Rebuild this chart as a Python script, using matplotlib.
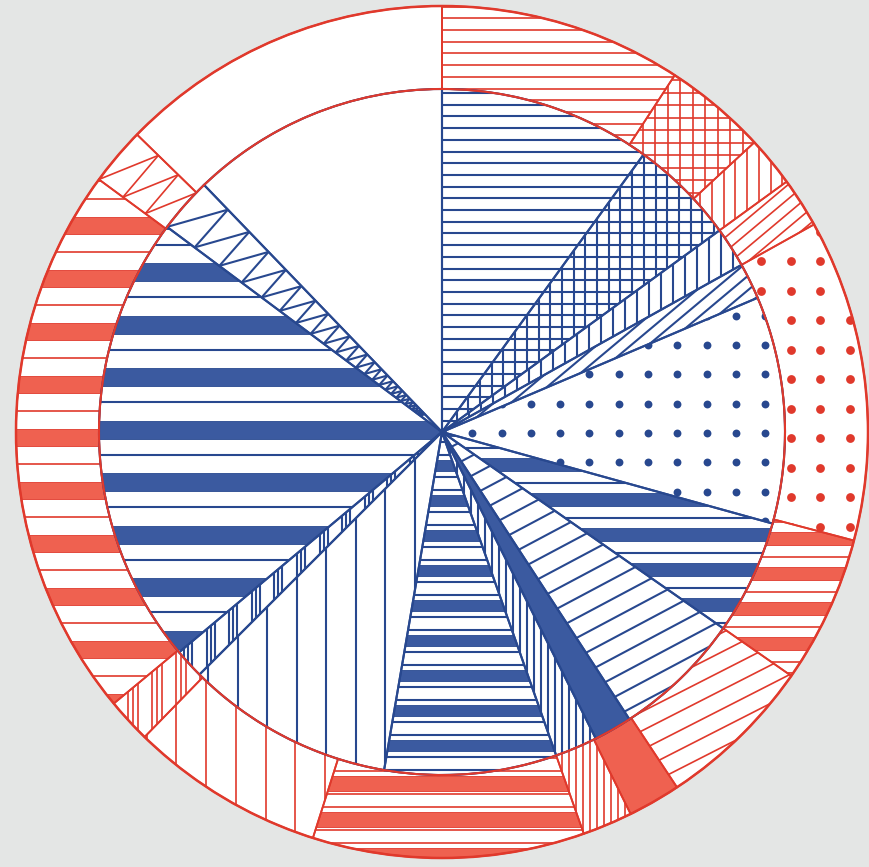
import numpy as np
import matplotlib
matplotlib.use("Agg")
import matplotlib.pyplot as plt
from matplotlib.collections import LineCollection, PatchCollection
from matplotlib.patches import Rectangle, Circle

# share of each slice in percent, clockwise from 12 o'clock
inner_pct = [10.0, 5.0, 1.9, 1.7, 10.7, 5.4, 6.1, 1.8, 2.0, 8.1, 9.8, 1.4, 21.3, 2.6, 12.2]
outer_pct = [9.2, 3.9, 1.9, 1.9, 12.2, 5.6, 6.0, 2.0, 1.9, 10.3, 7.4, 1.7, 21.1, 2.2, 12.7]

# fill pattern of each slice (same order as the shares); positions in pixels from top-left
inner_fill = [
    dict(kind="hlines", step=11.7, y0=93),
    dict(kind="grid", step=11.7, x0=445, y0=93),
    dict(kind="vlines", step=12.0, x0=445),
    dict(kind="diag", angle=40, step=11),
    dict(kind="dots", step=29.3, x0=443, y0=433, size=32),
    dict(kind="stripes", period=35, band=13, lines=[25], y0=493),
    dict(kind="diag", angle=28, step=17.5),
    dict(kind="solid"),
    dict(kind="vlines", step=7.0, x0=443),
    dict(kind="stripes", period=35, band=11, lines=[17, 30], y0=565),
    dict(kind="vlines", step=29.5, x0=415),
    dict(kind="triple", step=22.6, x0=188, gap=4),
    dict(kind="stripes", period=52.5, band=18, lines=[34], y0=263),
    dict(kind="zigzag", ratio=0.9),
    dict(kind="blank"),
]
outer_fill = [
    dict(kind="hlines", step=11.7, y0=30),
    dict(kind="grid", step=12.5, x0=443, y0=30),
    dict(kind="vlines", step=11.7, x0=443),
    dict(kind="diag", angle=40, step=11),
    dict(kind="dots", step=29.5, x0=437, y0=438, size=40),
    dict(kind="stripes", period=35, band=13, lines=[25], y0=532),
    dict(kind="diag", angle=27, step=17),
    dict(kind="solid"),
    dict(kind="vlines", step=7.0, x0=443),
    dict(kind="stripes", period=36, band=15, lines=[18, 31], y0=812),
    dict(kind="vlines", step=29.7, x0=325),
    dict(kind="triple", step=24, x0=133, gap=5),
    dict(kind="stripes", period=53, band=17, lines=[35], y0=270),
    dict(kind="zigzag", ratio=0.93),
    dict(kind="blank"),
]

W, H = 870, 867
CX, CY = 442, 432          # centre, pixel coords
R_IN, R_OUT = 343, 426

BLUE_LINE = "#28488f"
BLUE_FILL = "#3b5aa0"
RED_LINE = "#e0392c"
RED_FILL = "#ef6150"
PAPER = "#e4e6e5"


def steps(start, step, limit):
    k0 = int(np.floor(-start / step)) - 1
    k1 = int(np.ceil((limit - start) / step)) + 1
    return [start + k * step for k in range(k0, k1 + 1)]


def hatch(ax, wedge, spec, color, fill, lw):
    kind = spec["kind"]
    if kind == "blank":
        return
    if kind == "solid":
        wedge.set_facecolor(fill)
        return
    segs = []
    if kind in ("hlines", "grid"):
        for y in steps(spec["y0"], spec["step"], H):
            segs.append([(0, H - y), (W, H - y)])
    if kind in ("vlines", "grid"):
        for x in steps(spec["x0"], spec["step"], W):
            segs.append([(x, 0), (x, H)])
    if kind == "triple":
        for x in steps(spec["x0"], spec["step"], W):
            for j in (-1, 0, 1):
                xx = x + j * spec["gap"]
                segs.append([(xx, 0), (xx, H)])
    if kind == "diag":
        a = np.radians(spec["angle"])
        d = np.array([np.cos(a), np.sin(a)])
        n = np.array([-np.sin(a), np.cos(a)])
        c = np.array([CX, H - CY])
        for k in range(-90, 91):
            p = c + n * k * spec["step"]
            segs.append([tuple(p - 1300 * d), tuple(p + 1300 * d)])
    if kind == "stripes":
        rects = []
        for y in steps(spec["y0"], spec["period"], H):
            rects.append(Rectangle((0, H - y - spec["band"]), W, spec["band"]))
            for off in spec["lines"]:
                segs.append([(0, H - y - off), (W, H - y - off)])
        pc = PatchCollection(rects, facecolor=fill, edgecolor=color,
                             linewidth=0.6, zorder=2)
        ax.add_collection(pc)
        pc.set_clip_path(wedge)
    if kind == "dots":
        xs = steps(spec["x0"], spec["step"], W)
        ys = steps(spec["y0"], spec["step"], H)
        X, Y = np.meshgrid(xs, ys)
        sc = ax.scatter(X.ravel(), H - Y.ravel(), s=spec["size"], c=color,
                        linewidths=0, zorder=2)
        sc.set_clip_path(wedge)
    if kind == "zigzag":
        cx, cy = wedge.center
        t1, t2 = np.radians(wedge.theta1), np.radians(wedge.theta2)
        r_stop = (wedge.r - wedge.width) if wedge.width else 25
        r = wedge.r
        pts = []
        while r > r_stop + 0.5:
            r2 = r * spec["ratio"]
            pts.append((cx + r * np.cos(t2), cy + r * np.sin(t2)))
            pts.append((cx + r2 * np.cos(t1), cy + r2 * np.sin(t1)))
            r = r2
        for p, q in zip(pts[:-1], pts[1:]):
            segs.append([p, q])
    if segs:
        lc = LineCollection(segs, colors=color, linewidths=lw, zorder=2)
        ax.add_collection(lc)
        lc.set_clip_path(wedge)


fig = plt.figure(figsize=(8.7, 8.67), dpi=100, facecolor=PAPER)
ax = fig.add_axes([0, 0, 1, 1])
ax.set_facecolor(PAPER)

centre = (CX, H - CY)
ring_w = R_OUT - R_IN

# outer ring (red) and inner pie (blue): white faces used as clip shapes
outer_wedges, _ = ax.pie(outer_pct, radius=R_OUT, center=centre, startangle=90,
                         counterclock=False, colors=["white"] * len(outer_pct),
                         wedgeprops=dict(width=ring_w, linewidth=0, zorder=1))
inner_wedges, _ = ax.pie(inner_pct, radius=R_IN, center=centre, startangle=90,
                         counterclock=False, colors=["white"] * len(inner_pct),
                         wedgeprops=dict(linewidth=0, zorder=1))

for w, spec in zip(outer_wedges, outer_fill):
    hatch(ax, w, spec, RED_LINE, RED_FILL, 1.2)
for w, spec in zip(inner_wedges, inner_fill):
    hatch(ax, w, spec, BLUE_LINE, BLUE_FILL, 1.5)

# slice outlines
ax.pie(outer_pct, radius=R_OUT, center=centre, startangle=90, counterclock=False,
       wedgeprops=dict(width=ring_w, fill=False, edgecolor=RED_LINE,
                       linewidth=1.3, zorder=4))
ax.pie(inner_pct, radius=R_IN, center=centre, startangle=90, counterclock=False,
       wedgeprops=dict(fill=False, edgecolor=BLUE_LINE, linewidth=1.5, zorder=4))

ax.add_patch(Circle(centre, R_IN, fill=False, edgecolor=RED_LINE, linewidth=1.5, zorder=5))
ax.add_patch(Circle(centre, R_OUT, fill=False, edgecolor=RED_LINE, linewidth=1.8, zorder=5))

ax.set_xlim(0, W)
ax.set_ylim(0, H)
ax.set_aspect("equal")
ax.axis("off")

fig.savefig("out.png", dpi=100, facecolor=PAPER)
